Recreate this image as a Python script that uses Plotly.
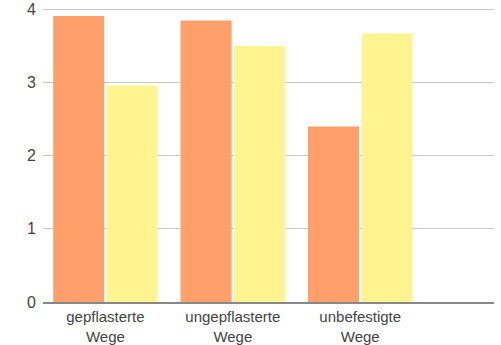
import plotly.graph_objects as go

categories = ["gepflasterte<br>Wege", "ungepflasterte<br>Wege", "unbefestigte<br>Wege"]
series_a = [3.91, 3.85, 2.40]
series_b = [2.96, 3.50, 3.67]
y_ticks = [0, 1, 2, 3, 4]

fig = go.Figure()
fig.add_trace(go.Bar(x=categories, y=series_a, marker=dict(color="#FFA06A", line=dict(width=0)), name="A"))
fig.add_trace(go.Bar(x=categories, y=series_b, marker=dict(color="#FFF48F", line=dict(width=0)), name="B"))

fig.update_layout(
    width=501, height=345,
    margin=dict(l=43, r=7, t=8, b=43),
    barmode="group", bargap=0.16, bargroupgap=0.047,
    showlegend=False,
    plot_bgcolor="white", paper_bgcolor="white",
    font=dict(family="Liberation Sans, Arial, Helvetica, sans-serif", size=15, color="#444"),
)
fig.update_xaxes(type="category", range=[-0.49, 3.05], showgrid=False, ticks="",
                 showline=True, linecolor="#888", linewidth=2, automargin=False,
                 tickfont=dict(size=15, color="#444"))
fig.update_yaxes(range=[0, 4.02], tickvals=y_ticks, showgrid=True, gridcolor="#c8c8c8", gridwidth=1,
                 zeroline=False, ticks="", showline=False, automargin=False,
                 tickfont=dict(size=16, color="#444"), ticklabelstandoff=6)

fig.write_html("out.html")
